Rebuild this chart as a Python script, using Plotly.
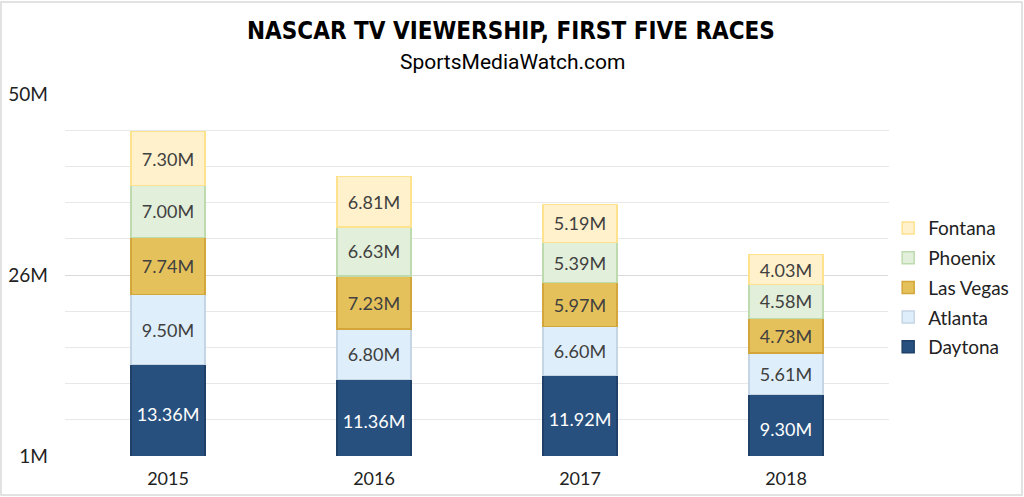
import plotly.graph_objects as go

years = ["2015", "2016", "2017", "2018"]
daytona = [13.36, 11.36, 11.92, 9.30]
atlanta = [9.50, 6.80, 6.60, 5.61]
las_vegas = [7.74, 7.23, 5.97, 4.73]
phoenix = [7.00, 6.63, 5.39, 4.58]
fontana = [7.30, 6.81, 5.19, 4.03]

tick_vals = [1, 25.5, 50]
tick_text = ["1M", "26M", "50M"]

series = [
    ("Daytona", daytona, "#27507E", "#1F4168", "white"),
    ("Atlanta", atlanta, "#DEEFFB", "#C5D5E4", "#404040"),
    ("Las Vegas", las_vegas, "#E5C15B", "#D2A63A", "#404040"),
    ("Phoenix", phoenix, "#E2EFDA", "#BDDBAE", "#404040"),
    ("Fontana", fontana, "#FFF1CC", "#FFE28E", "#404040"),
]

fig = go.Figure()
for i, (name, vals, fill, line, tc) in enumerate(series):
    fig.add_trace(go.Bar(
        x=years, y=vals, name=name, legendgroup=name,
        legendrank=1000 - i,
        marker=dict(color=fill, line=dict(color=line, width=1.5)),
        text=[f"{v:.2f}M" for v in vals],
        textposition="inside", insidetextanchor="middle",
        textfont=dict(family="Lato", size=18, color=tc),
        width=0.36,
    ))

fig.update_layout(
    barmode="stack",
    width=1024, height=497,
    margin=dict(l=65, r=135, t=94, b=41, autoexpand=False),
    paper_bgcolor="white", plot_bgcolor="white",
    legend=dict(
        x=0.999, xanchor="left", y=0.465, yanchor="middle",
        traceorder="grouped", tracegroupgap=2,
        font=dict(family="Lato", size=19, color="#222"),
        itemwidth=30,
    ),
    uniformtext=dict(mode="show", minsize=18),
)
fig.add_annotation(
    text="<b>NASCAR TV VIEWERSHIP, FIRST FIVE RACES</b>",
    xref="paper", yref="paper", x=(511 - 65) / 824, y=(456 - 31) / 362,
    xanchor="center", yanchor="middle", showarrow=False,
    font=dict(family="DejaVu Sans Condensed", size=24, color="black"),
)
fig.add_annotation(
    text="SportsMediaWatch.com",
    xref="paper", yref="paper", x=(512 - 65) / 824, y=(456 - 62) / 362,
    xanchor="center", yanchor="middle", showarrow=False,
    font=dict(family="Roboto", size=21, color="black"),
)
fig.update_xaxes(
    showgrid=False, showline=False, ticks="",
    tickfont=dict(family="Lato", size=18, color="#222"),
    ticklabelstandoff=10, automargin=False,
)
fig.update_yaxes(
    range=[1, 50], tickmode="array", tickvals=tick_vals, ticktext=tick_text,
    showgrid=True, gridcolor="#D9D9D9", gridwidth=1,
    zeroline=False, showline=False, ticks="",
    tickfont=dict(family="Lato", size=19, color="#222"),
    minor=dict(tickmode="linear", tick0=1, dtick=4.9, showgrid=True, gridcolor="#E8E8E8", gridwidth=1),
    ticklabelstandoff=16, automargin=False,
)
# outer border
fig.add_shape(type="rect", xref="paper", yref="paper",
              x0=(1 - 65) / 824, x1=(1022 - 65) / 824,
              y0=(456 - 495) / 362, y1=(456 - 2) / 362,
              line=dict(color="#D9D9D9", width=1.5), layer="below")

fig.write_html("out.html", config={"displayModeBar": False},
               post_script="document.body.style.margin='0';")
